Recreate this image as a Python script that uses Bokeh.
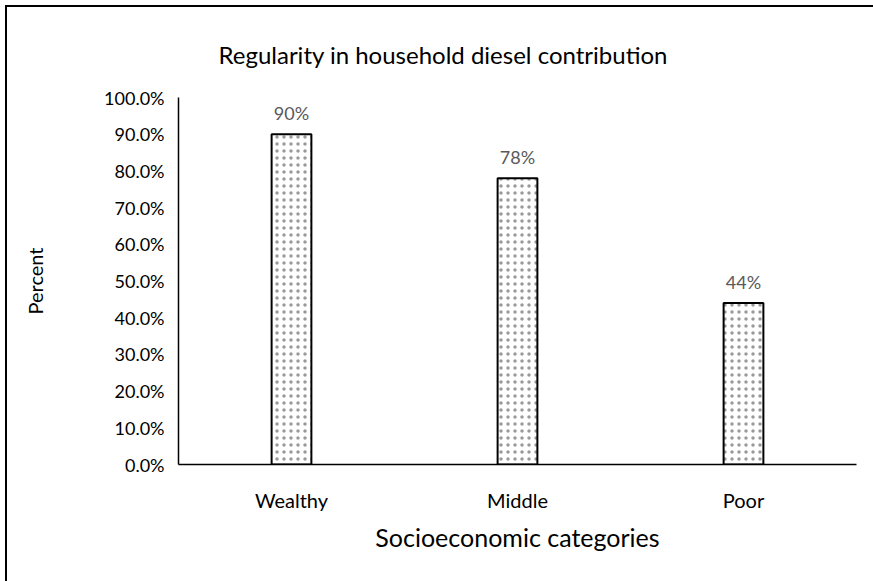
from bokeh.plotting import figure
from bokeh.models import (ColumnDataSource, NumeralTickFormatter, FixedTicker, Range1d)
from bokeh.core.properties import value
from bokeh.embed import file_html
from bokeh.resources import INLINE

categories = ["Wealthy", "Middle", "Poor"]
shares = [0.90, 0.78, 0.44]
share_labels = ["90%", "78%", "44%"]
y_ticks = [0.0, 0.1, 0.2, 0.3, 0.4, 0.5, 0.6, 0.7, 0.8, 0.9, 1.0]

FONT = "Lato"

src = ColumnDataSource(dict(cat=categories, val=shares, lab=share_labels))

p = figure(width=870, height=578, x_range=categories, y_range=Range1d(0, 1),
           output_backend="svg", toolbar_location=None,
           title="Regularity in household diesel contribution",
           min_border_left=171, min_border_right=21,
           min_border_top=90, min_border_bottom=121)

# chart-area frame
p.styles = {"border-left": "2px solid black", "border-top": "2px solid black",
            "border-right": "0", "border-bottom": "0", "outline": "none",
            "margin-left": "5px", "margin-top": "5px"}

p.vbar(x="cat", top="val", width=0.176, source=src,
       fill_color="white", line_color="black", line_width=2,
       hatch_pattern=".", hatch_color="#999999", hatch_scale=7, hatch_weight=1.6)

p.text(x="cat", y="val", text="lab", source=src,
       text_align="center", text_baseline="bottom", y_offset=-10,
       text_font=value(FONT), text_font_size="18px", text_color="#595959")

p.title.text_font = FONT
p.title.text_font_style = "normal"
p.title.text_font_size = "24px"
p.title.text_color = "black"
p.title.align = "left"
p.title.offset = 40
p.title.standoff = 58

p.xgrid.visible = False
p.ygrid.visible = False
p.outline_line_color = None
p.background_fill_color = "white"
p.border_fill_color = "white"

for ax in (p.xaxis, p.yaxis):
    ax.axis_line_color = "black"
    ax.axis_line_width = 1.5
    ax.major_tick_line_color = None
    ax.minor_tick_line_color = None
    ax.major_label_text_font = FONT
    ax.major_label_text_color = "black"
    ax.axis_label_text_font = FONT
    ax.axis_label_text_font_style = "normal"
    ax.axis_label_text_color = "black"

p.yaxis.ticker = FixedTicker(ticks=y_ticks)
p.yaxis.formatter = NumeralTickFormatter(format="0.0%")
p.yaxis.major_label_text_font_size = "18px"
p.yaxis.major_label_standoff = 8
p.yaxis.axis_label = "Percent"
p.yaxis.axis_label_text_font_size = "20px"
p.yaxis.axis_label_standoff = 54

p.xaxis.major_label_text_font_size = "20px"
p.xaxis.major_label_standoff = 17
p.xaxis.axis_label = "Socioeconomic categories"
p.xaxis.axis_label_text_font_size = "25px"
p.xaxis.axis_label_standoff = 7

open("out.html", "w").write(file_html(p, INLINE))
